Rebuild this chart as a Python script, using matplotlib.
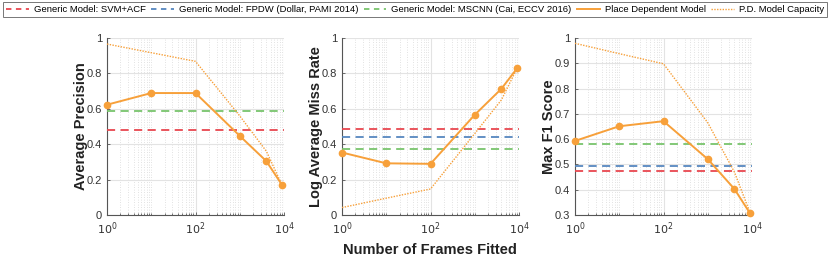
import matplotlib
matplotlib.use("Agg")
import matplotlib.pyplot as plt
import numpy as np
from matplotlib.ticker import LogLocator, FixedLocator, FuncFormatter, NullFormatter
from matplotlib.lines import Line2D

plt.rcParams['font.family'] = ['Liberation Sans', 'DejaVu Sans']

# ---------------- data ----------------
frames = [1, 10, 100, 1000, 4000, 9000]
capacity_frames = [1, 10, 100, 1000, 4000, 9000]

ap_place = [0.623, 0.689, 0.689, 0.447, 0.304, 0.17]
ap_capacity = [0.966, 0.917, 0.868, 0.56, 0.36, 0.17]
ap_svm = 0.483
ap_fpdw = None
ap_mscnn = 0.589

lamr_place = [0.353, 0.292, 0.289, 0.566, 0.713, 0.828]
lamr_capacity = [0.042, 0.095, 0.147, 0.46, 0.65, 0.828]
lamr_svm = 0.485
lamr_fpdw = 0.441
lamr_mscnn = 0.372

f1_place = [0.593, 0.651, 0.671, 0.521, 0.403, 0.307]
f1_capacity = [0.979, 0.938, 0.898, 0.665, 0.47, 0.31]
f1_svm = 0.474
f1_fpdw = 0.492
f1_mscnn = 0.581

ylabels = ["Average Precision", "Log Average Miss Rate", "Max F1 Score"]
yticks_list = [[0, 0.2, 0.4, 0.6, 0.8, 1], [0, 0.2, 0.4, 0.6, 0.8, 1],
               [0.3, 0.4, 0.5, 0.6, 0.7, 0.8, 0.9, 1]]
ylims = [(0, 1), (0, 1), (0.3, 1)]
legend_labels = ["Generic Model: SVM+ACF", "Generic Model: FPDW (Dollar, PAMI 2014)",
                 "Generic Model: MSCNN (Cai, ECCV 2016)", "Place Dependent Model",
                 "P.D. Model Capacity"]
xlabel = "Number of Frames Fitted"

# ---------------- style ----------------
C_RED = "#e8474f"
C_BLUE = "#5687bf"
C_GREEN = "#78c46c"
C_ORANGE = "#f7a03a"
C_AX = "#555555"

fig = plt.figure(figsize=(8.3, 2.63), dpi=100)
lefts = [107 / 830, 342 / 830, 575 / 830]
w = 177 / 830
b = 1 - 215 / 263
h = 177 / 263

panels = [
    (ap_place, ap_capacity, ap_svm, ap_fpdw, ap_mscnn),
    (lamr_place, lamr_capacity, lamr_svm, lamr_fpdw, lamr_mscnn),
    (f1_place, f1_capacity, f1_svm, f1_fpdw, f1_mscnn),
]

for i, (place, cap, svm, fpdw, mscnn) in enumerate(panels):
    ax = fig.add_axes([lefts[i], b, w, h])
    ax.set_xscale('log')
    ax.set_xlim(1, 10000)
    ax.set_ylim(*ylims[i])
    # baselines
    for val, col in ((mscnn, C_GREEN), (fpdw, C_BLUE), (svm, C_RED)):
        if val is not None:
            ax.plot([1, 10000], [val, val], color=col, lw=1.3, ls=(0, (4.5, 3)), zorder=3)
    ax.plot(capacity_frames, cap, color=C_ORANGE, lw=1.0, ls=(0, (1, 1)), zorder=4)
    ax.plot(frames, place, color=C_ORANGE, lw=1.4, marker='o', ms=4.5, zorder=5, clip_on=False)

    ax.xaxis.set_major_locator(FixedLocator([1, 100, 10000]))
    ax.xaxis.set_minor_locator(LogLocator(base=10, subs=np.arange(1, 10), numticks=20))
    ax.xaxis.set_minor_formatter(NullFormatter())
    ax.xaxis.set_major_formatter(FuncFormatter(lambda v, p: r"$10^{%d}$" % int(round(np.log10(v)))))
    ax.set_yticks(yticks_list[i])
    ax.yaxis.set_major_formatter(FuncFormatter(lambda v, p: ("%g" % v)))

    ax.grid(True, which='major', color='#e3e3e3', lw=0.8)
    ax.grid(True, which='minor', axis='x', color='#d8d8d8', lw=0.6, ls=(0, (1, 2)))
    ax.set_axisbelow(True)
    for s in ('top', 'right'):
        ax.spines[s].set_visible(False)
    for s in ('left', 'bottom'):
        ax.spines[s].set_color(C_AX)
        ax.spines[s].set_linewidth(0.8)
    ax.tick_params(which='both', direction='in', colors=C_AX, labelcolor='#333333',
                   labelsize=8, length=2.5, width=0.6)
    ax.tick_params(which='minor', length=1.5)
    ax.tick_params(axis='x', pad=4)
    ax.set_ylabel(ylabels[i], fontsize=10.5, fontweight='bold', color='#222222', labelpad=-1)

fig.text(430 / 830, 1 - 250 / 263, xlabel, ha='center', va='center',
         fontsize=10.5, fontweight='bold', color='#222222')

handles = [
    Line2D([], [], color=C_RED, lw=1.3, ls=(0, (3, 2.5))),
    Line2D([], [], color=C_BLUE, lw=1.3, ls=(0, (3, 2.5))),
    Line2D([], [], color=C_GREEN, lw=1.3, ls=(0, (3, 2.5))),
    Line2D([], [], color=C_ORANGE, lw=1.4),
    Line2D([], [], color=C_ORANGE, lw=1.0, ls=(0, (1, 1))),
]
leg = fig.legend(handles, legend_labels, loc='upper center', bbox_to_anchor=(0.5, 0.997),
                 ncol=5, fontsize=6.8, frameon=True, fancybox=False, handlelength=2.4,
                 handletextpad=0.5, columnspacing=0.6, borderpad=0.35, borderaxespad=0.1)
leg.get_frame().set_edgecolor('#555555')
leg.get_frame().set_linewidth(0.7)

fig.savefig("out.png", dpi=100)
